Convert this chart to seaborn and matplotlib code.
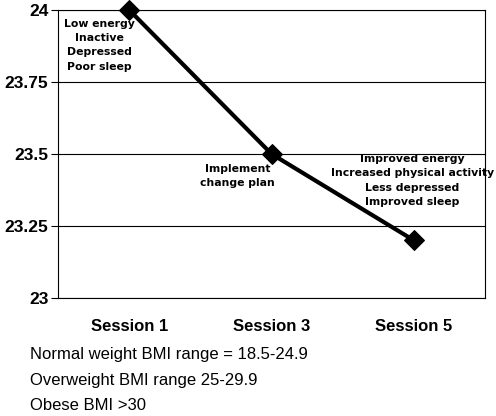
import numpy as np
import matplotlib
matplotlib.use('Agg')
import matplotlib.pyplot as plt
import seaborn as sns
import pandas as pd

# Data
sessions = ['Session 1', 'Session 3', 'Session 5']
bmi = [24.0, 23.5, 23.2]
notes = [
    'Low energy\nInactive\nDepressed\nPoor sleep',
    'Implement\nchange plan',
    'Improved energy\nIncreased physical activity\nLess depressed\nImproved sleep',
]
y_ticks = [23, 23.25, 23.5, 23.75, 24]
y_tick_labels = ['23', '23.25', '23.5', '23.75', '24']
footnote = [
    'Normal weight BMI range = 18.5-24.9',
    'Overweight BMI range 25-29.9',
    'Obese BMI >30',
]

sns.set_style('white', {'text.color': 'black', 'xtick.color': 'black',
                        'ytick.color': 'black', 'axes.edgecolor': 'black'})
plt.rcParams['font.family'] = ['Liberation Sans', 'DejaVu Sans']
plt.rcParams['text.color'] = 'black'

df = pd.DataFrame({'session': sessions, 'bmi': bmi})

fig = plt.figure(figsize=(4.96, 4.16), dpi=100)
ax = fig.add_axes([0.117, 0.2837, 0.861, 0.6923])

sns.lineplot(data=df, x='session', y='bmi', ax=ax, color='black', lw=3,
             marker='D', markersize=10, markeredgecolor='black', clip_on=False,
             zorder=5)

ax.set_xlim(-0.5, 2.5)
ax.set_ylim(23, 24)
ax.set_yticks(y_ticks)
ax.set_yticklabels(y_tick_labels, fontsize=12.5, fontweight='bold', color='black')
ax.set_xticks(range(len(sessions)))
ax.set_xticklabels(sessions, fontsize=12, fontweight='bold', color='black')
ax.set_xticks([-0.5, 0.5, 1.5, 2.5], minor=True)
ax.tick_params(axis='x', which='major', length=0, pad=15)
ax.tick_params(axis='x', which='minor', length=5, direction='out', width=0.8, color='black')
ax.tick_params(axis='y', length=5, direction='out', width=0.8, color='black', pad=2, left=True)
ax.set_xlabel('')
ax.set_ylabel('')
ax.grid(axis='y', color='black', lw=0.8)
for s in ax.spines.values():
    s.set_color('black')
    s.set_linewidth(0.8)

# annotations next to the points
style = dict(ha='center', va='top', fontsize=7.8, fontweight='bold',
             family='DejaVu Sans', linespacing=1.55, color='black')
ax.text(-0.21, 23.97, notes[0], **style)
ax.text(-0.24 + 1, 23.465, notes[1], **style)
ax.text(1.99, 23.50, notes[2], **style)

for i, line in enumerate(footnote):
    fig.text(30 / 496, 1 - (355 + 25 * i) / 416, line, fontsize=12,
             ha='left', va='center', color='black')

fig.savefig('out.png', dpi=100)
